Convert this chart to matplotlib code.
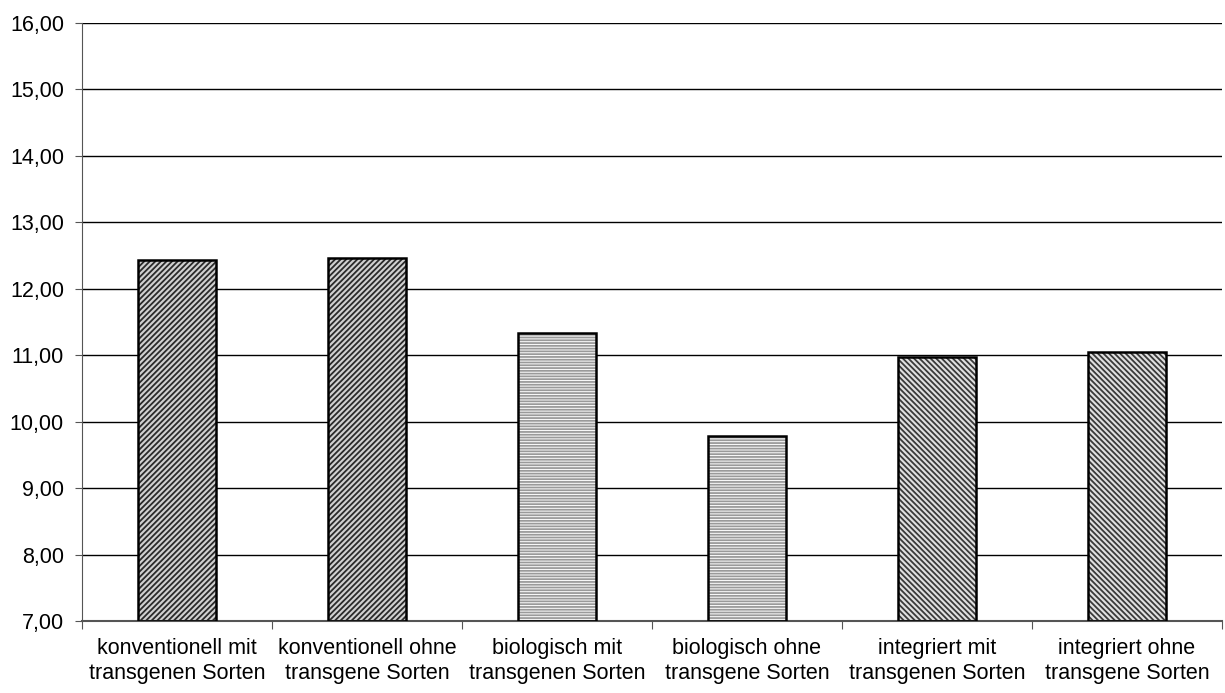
import matplotlib
matplotlib.use("Agg")
import matplotlib.pyplot as plt
import numpy as np

plt.rcParams['font.family'] = ['Liberation Sans', 'DejaVu Sans']
plt.rcParams['hatch.linewidth'] = 1.3

categories = ["konventionell mit\ntransgenen Sorten", "konventionell ohne\ntransgene Sorten",
              "biologisch mit\ntransgenen Sorten", "biologisch ohne\ntransgene Sorten",
              "integriert mit\ntransgenen Sorten", "integriert ohne\ntransgene Sorten"]
values = [12.44, 12.47, 11.34, 9.79, 10.97, 11.05]
hatches = ['//////', '//////', '------', '------', '\\\\\\\\\\\\', '\\\\\\\\\\\\']
hatch_colors = ['#2a2a2a', '#2a2a2a', '#9a9a9a', '#9a9a9a', '#3a3a3a', '#3a3a3a']
face_colors = ['#d0d0d0', '#d0d0d0', 'white', 'white', '#e0e0e0', '#e0e0e0']
yticks = [7, 8, 9, 10, 11, 12, 13, 14, 15, 16]

fig = plt.figure(figsize=(12.25, 6.93), dpi=100)
ax = fig.add_axes([82/1225, 1-621/693, (1222-82)/1225, (621-23)/693])

x = np.arange(len(categories))
for v in yticks:
    ax.axhline(v, color='black', lw=1, zorder=0)
heights = np.array(values) - 7
# hatch layer, then black outline
ax.bar(x, heights, bottom=7, width=0.41, color=face_colors,
       edgecolor=hatch_colors, linewidth=0, hatch=hatches, zorder=2)
ax.bar(x, heights, bottom=7, width=0.41, fill=False,
       edgecolor='black', linewidth=1.8, zorder=3)

ax.set_xlim(-0.5, len(categories) - 0.5)
ax.set_ylim(7, 16)
ax.set_yticks(yticks)
ax.set_yticklabels([f"{v:.2f}".replace('.', ',') for v in yticks], fontsize=15.5)
ax.set_xticks(np.arange(-0.5, len(categories), 1.0))
ax.set_xticklabels([])
ax.set_xticks(x, minor=True)
ax.set_xticklabels(categories, minor=True, fontsize=15.5, linespacing=1.3)
ax.tick_params(axis='x', which='minor', length=0, pad=12)
ax.tick_params(axis='x', which='major', length=6, direction='out', color='#555555')
ax.tick_params(axis='y', length=5, direction='out', color='#555555', pad=8)
for s in ['top', 'right']:
    ax.spines[s].set_visible(False)
ax.spines['left'].set_color('#555555')
ax.spines['bottom'].set_color('#555555')
ax.spines['bottom'].set_linewidth(1.5)

fig.savefig("out.png", dpi=100)
